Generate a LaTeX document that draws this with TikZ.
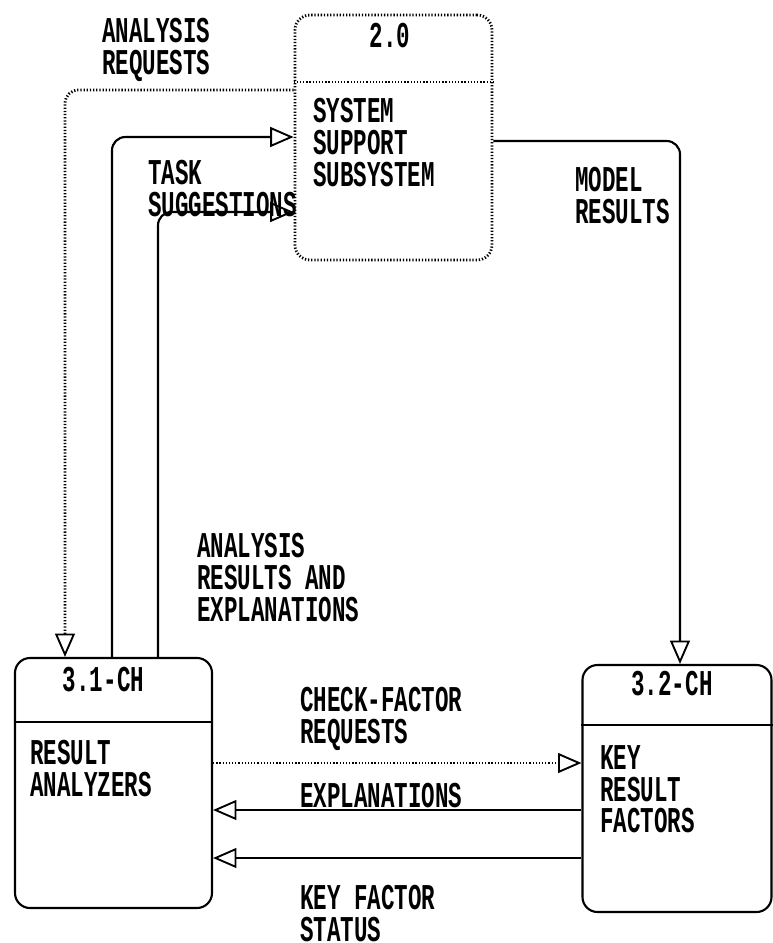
\documentclass[tikz,border=0pt]{standalone}
\usepackage{fontspec}
\setmainfont{Liberation Mono}[FakeStretch=0.62]
\usetikzlibrary{arrows.meta, positioning}

\begin{document}
\begin{tikzpicture}[x=0.3mm, y=-0.3mm,
      every node/.style={font=\bfseries\fontsize{31}{27.2}\selectfont, inner sep=0pt},
      procbox/.style={draw, line width=1.8pt, rounded corners=4.5mm, minimum width=59.1mm, minimum height=75mm},
      dotline/.style={line width=2.4pt, dash pattern=on 1.1pt off 1.6pt},
      flow/.style={line width=1.8pt, rounded corners=4mm, -{Triangle[open, length=20pt, width=17pt, line width=1.6pt]}},
      lbl/.style={anchor=north west, align=left}]
    \useasboundingbox (0,0) rectangle (773,943);
    % process 2.0
    \node[procbox, dotline, minimum height=73.5mm] (proc2) at (393.5,137.5) {};
    \draw[dotline] (proc2.west |- 0,82) -- (proc2.east |- 0,82);
    \node (t2) at (390,36) {2.0};
    \node[lbl] (b2) at (313,98) {SYSTEM\\SUPPORT\\SUBSYSTEM};
    % process 3.1-CH
    \node[procbox] (proc31) at (113.5,783) {};
    \draw[line width=1.8pt] (proc31.west |- 0,722) -- (proc31.east |- 0,722);
    \node (t31) at (103.5,680) {3.1-CH};
    \node[lbl] (b31) at (30,740) {RESULT\\ANALYZERS};
    % process 3.2-CH
    \node[procbox, minimum width=56.7mm, minimum height=74.1mm] (proc32) at (677,788.5) {};
    \draw[line width=1.8pt] (proc32.west |- 0,725) -- (proc32.east |- 0,725);
    \node (t32) at (672,684) {3.2-CH};
    \node[lbl] (b32) at (600,745) {KEY\\RESULT\\FACTORS};
    % flows between 2.0 and 3.1-CH
    \draw[flow, dotline] (proc2.west |- 0,90) -| (65,0 |- proc31.north);
    \draw[flow] (112,0 |- proc31.north) |- (proc2.west |- 0,137);
    \draw[flow] (158,0 |- proc31.north) |- (proc2.west |- 0,212);
    \node[lbl] (lreq) at (102,18) {ANALYSIS\\REQUESTS};
    \node[lbl] (ltask) at (148,160) {TASK\\SUGGESTIONS};
    \node[lbl] (lres) at (197,533) {ANALYSIS\\RESULTS AND\\EXPLANATIONS};
    % flow 2.0 to 3.2-CH
    \draw[flow] (proc2.east |- 0,141) -| (680,0 |- proc32.north);
    \node[lbl] (lmod) at (575,167) {MODEL\\RESULTS};
    % flows between 3.1-CH and 3.2-CH
    \draw[flow, dotline] (proc31.east |- 0,763) -- (proc32.west |- 0,763);
    \draw[flow] (proc32.west |- 0,810) -- (proc31.east |- 0,810);
    \draw[flow] (proc32.west |- 0,858) -- (proc31.east |- 0,858);
    \node[lbl] (lchk) at (300,687) {CHECK-FACTOR\\REQUESTS};
    \node[lbl] (lexp) at (300,783) {EXPLANATIONS};
    \node[lbl] (lkey) at (300,885) {KEY FACTOR\\STATUS};
  \end{tikzpicture}
\end{document}
